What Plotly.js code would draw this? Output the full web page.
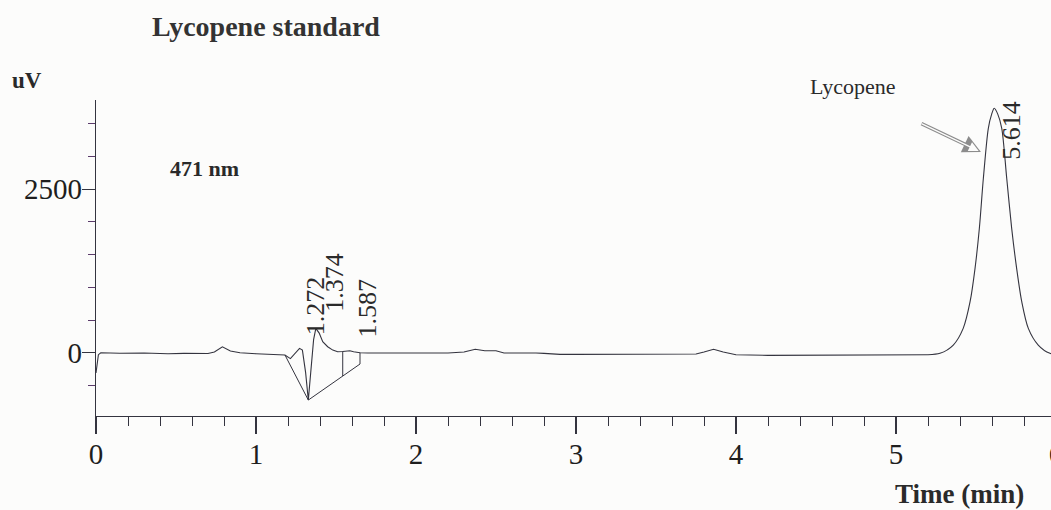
<!DOCTYPE html>
<html>
<head>
<meta charset="utf-8">
<script src="https://cdn.plot.ly/plotly-3.0.1.min.js"></script>
<style>
  html, body { margin: 0; padding: 0; overflow: hidden; background: #fcfcfb; }
</style>
</head>
<body>
<div id="chart"></div>
<script>
// Chromatogram trace at 471 nm: retention time (min) and detector signal (uV)
const timeMin = [
  0.000, 0.015, 0.030, 0.150, 0.300, 0.450, 0.550, 0.700, 0.740, 0.790, 0.840, 0.900,
  1.000, 1.100, 1.181, 1.215, 1.245, 1.272, 1.290, 1.310, 1.327, 1.345, 1.360, 1.374,
  1.395, 1.417, 1.448, 1.480, 1.510, 1.542, 1.565, 1.587, 1.610, 1.650, 1.700, 1.800,
  1.900, 2.000, 2.100, 2.200, 2.300, 2.370, 2.430, 2.500, 2.550, 2.650, 2.750, 2.800,
  2.900, 3.000, 3.200, 3.400, 3.600, 3.750, 3.800, 3.860, 3.920, 4.000, 4.200, 4.400,
  4.600, 5.000, 5.200, 5.275, 5.358, 5.420, 5.463, 5.494, 5.521, 5.546, 5.577, 5.598,
  5.614, 5.636, 5.661, 5.692, 5.723, 5.754, 5.786, 5.827, 5.889, 5.962, 6.000
];
const signalUV = [
  -310, -30, 0, -8, -5, -15, -10, -12, 10, 90, 25, 0,
  -15, -20, -35, -90, 0, 67, 40, -300, -724, -200, 200, 373,
  300, 168, 92, 40, 15, 18, 30, 31, 15, 0, -5, -5,
  -10, -5, -10, -5, 10, 52, 30, 30, -5, 0, -5, -10,
  -25, -25, -25, -25, -22, -20, 10, 52, 10, -30, -40, -38,
  -35, -35, -30, -9, 118, 373, 780, 1291, 1903, 2668, 3433, 3650,
  3740, 3650, 3433, 2668, 1903, 1291, 780, 373, 118, -9, -20
];

// Integration baselines and peak drop lines
const baseTime   = [1.181, 1.327, 1.650, null, 1.542, 1.542, null, 1.650, 1.650];
const baseSignal = [-35, -724, -173, null, 18, -357, null, 0, -173];

// Detected peaks (retention time, min)
const peakTimes = [1.272, 1.374, 1.587, 5.614];

// Axis ticks
const xTicks = [0, 1, 2, 3, 4, 5, 6];
const yTicks = [0, 2500];

const lineColor = '#34343f';
const serif = 'Liberation Serif, Times New Roman, serif';

// The early part has sharp integration features (straight segments);
// the lycopene peak is drawn as a smooth curve.
const split = timeMin.indexOf(5.2);

const traces = [
  {
    x: timeMin.slice(0, split + 1), y: signalUV.slice(0, split + 1),
    type: 'scatter', mode: 'lines',
    line: { color: lineColor, width: 1.1 }, hoverinfo: 'skip', cliponaxis: false
  },
  {
    x: timeMin.slice(split), y: signalUV.slice(split),
    type: 'scatter', mode: 'lines',
    line: { color: lineColor, width: 1.1, shape: 'spline', smoothing: 0.8 }, hoverinfo: 'skip'
  },
  {
    x: baseTime, y: baseSignal, type: 'scatter', mode: 'lines',
    line: { color: lineColor, width: 1 }, hoverinfo: 'skip', connectgaps: false
  }
];

// Pixel offsets of each retention-time label from its peak apex
const labelShift = [[15.5, 42], [19, 46.5], [17.5, 42.5], [17.5, -21.7]];

const annotations = peakTimes.map((t, i) => {
  const idx = timeMin.indexOf(t);
  return {
    x: t, y: signalUV[idx], xref: 'x', yref: 'y',
    text: t.toFixed(3), showarrow: false, textangle: -90,
    xanchor: 'center', yanchor: 'middle',
    xshift: labelShift[i][0], yshift: labelShift[i][1],
    font: { family: serif, size: 26, color: '#2a2a2a' }
  };
});

annotations.push(
  { x: 0.1125, y: 0.782, xref: 'paper', yref: 'paper', text: '<b>471 nm</b>', showarrow: false,
    xanchor: 'center', yanchor: 'middle', font: { family: serif, size: 22, color: '#2a2a2a' } },
  { x: -0.0719, y: 1.063, xref: 'paper', yref: 'paper', text: '<b>uV</b>', showarrow: false,
    xanchor: 'center', yanchor: 'middle', font: { family: serif, size: 23, color: '#2a2a2a' } },
  { x: 0.1771, y: 1.234, xref: 'paper', yref: 'paper', text: '<b>Lycopene standard</b>', showarrow: false,
    xanchor: 'center', yanchor: 'middle', font: { family: serif, size: 28, color: '#333' } },
  { x: 0.8995, y: -0.247, xref: 'paper', yref: 'paper', text: '<b>Time (min)</b>', showarrow: false,
    xanchor: 'center', yanchor: 'middle', font: { family: serif, size: 27, color: '#2a2a2a' } },
  { x: 0.7885, y: 1.043, xref: 'paper', yref: 'paper', text: 'Lycopene', showarrow: false,
    xanchor: 'center', yanchor: 'middle', font: { family: serif, size: 22, color: '#2a2a2a' } },
  // hollow pointer arrow towards the lycopene peak
  { x: 5.531, y: 3071, xref: 'x', yref: 'y', ax: -61, ay: -29, text: '', showarrow: true,
    arrowhead: 2, arrowsize: 1, arrowwidth: 3.6, arrowcolor: '#8c8c8c', standoff: 0 },
  { x: 5.531, y: 3071, xref: 'x', yref: 'y', ax: -61, ay: -29, text: '', showarrow: true,
    arrowhead: 2, arrowsize: 1.5, arrowwidth: 1.3, arrowcolor: '#fcfcfb', standoff: 2.5 }
);

const layout = {
  width: 1062, height: 510,
  margin: { l: 96, r: 6, t: 100, b: 94 },
  paper_bgcolor: '#fcfcfb', plot_bgcolor: '#fcfcfb',
  showlegend: false,
  xaxis: {
    range: [0, 6], tickvals: xTicks, ticktext: xTicks.map(String),
    showline: true, linecolor: lineColor, linewidth: 1.2,
    ticks: 'outside', ticklen: 17, tickwidth: 1.2, tickcolor: lineColor,
    minor: { dtick: 0.2, ticks: 'outside', ticklen: 9, tickwidth: 1, tickcolor: lineColor, showgrid: false },
    showgrid: false, zeroline: false, automargin: false,
    ticklabeloverflow: 'allow', ticklabelstandoff: -5,
    tickfont: { family: serif, size: 29, color: '#1e1e1e' }
  },
  yaxis: {
    range: [-968, 3866], tickvals: yTicks, ticktext: yTicks.map(String),
    showline: true, linecolor: lineColor, linewidth: 1.2,
    ticks: 'outside', ticklen: 13, tickwidth: 1.2, tickcolor: lineColor,
    minor: { dtick: 500, ticks: 'outside', ticklen: 7, tickwidth: 1, tickcolor: '#5a3a6a', showgrid: false },
    showgrid: false, zeroline: false, automargin: false,
    ticklabelstandoff: -6,
    tickfont: { family: serif, size: 29, color: '#1e1e1e' }
  },
  annotations: annotations
};

Plotly.newPlot('chart', traces, layout, { staticPlot: true, displayModeBar: false });
</script>
</body>
</html>
